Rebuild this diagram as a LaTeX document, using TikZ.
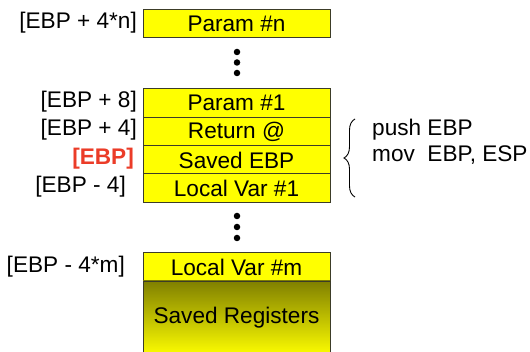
\documentclass[tikz,border=0pt]{standalone}
\usepackage{fontspec}
\setmainfont{Liberation Sans}
\usetikzlibrary{decorations.pathreplacing}
\definecolor{boxyellow}{RGB}{255,255,0}
\definecolor{olivetop}{RGB}{128,128,0}
\definecolor{ebpred}{RGB}{235,60,40}
\definecolor{boxline}{RGB}{60,60,40}
\begin{document}
\begin{tikzpicture}[x=1pt,y=-1pt,
  every node/.style={font=\fontsize{22.6}{26}\selectfont, inner sep=0pt},
  slot/.style={draw=boxline, line width=0.8pt, fill=boxyellow, minimum width=187pt, minimum height=28.3pt},
  addr/.style={anchor=east},
  dot/.style={circle, fill=black, minimum size=6.5pt, inner sep=0pt}]
\useasboundingbox (0,0) rectangle (530,352);
\clip (0,0) rectangle (530,352);
% stack slots
\node[slot] (pn) at (236.5,23.5) {Param \#n};
\node[slot] (p1) at (236.5,103) {Param \#1};
\node[slot] (ret) at (236.5,131.5) {Return @};
\node[slot] (sebp) at (236.5,160) {Saved EBP};
\node[slot] (lv1) at (236.5,188) {Local Var \#1};
\node[slot] (lvm) at (236.5,267) {Local Var \#m};
\shade[top color=olivetop, bottom color=boxyellow, draw=boxline, line width=0.8pt] (143,281) rectangle (330,356);
\node (sr) at (236.5,318) {Saved Registers};
% dots
\node[dot] (d1) at (237,52) {};
\node[dot] (d2) at (237,62.5) {};
\node[dot] (d3) at (237,73) {};
\node[dot] (d4) at (237,216) {};
\node[dot] (d5) at (237,227) {};
\node[dot] (d6) at (237,238) {};
% address labels
\node[addr] (a1) at (137,23) {[EBP + 4*n]};
\node[addr] (a2) at (137,102) {[EBP + 8]};
\node[addr] (a3) at (137,130) {[EBP + 4]};
\node[addr, text=ebpred, font=\fontsize{22.6}{26}\selectfont\bfseries] (a4) at (134,159) {[EBP]};
\node[addr] (a5) at (126,187) {[EBP - 4]};
\node[addr] (a6) at (125,267) {[EBP - 4*m]};
% brace and prologue
\coordinate (bt) at (355,119);
\coordinate (bb) at (355,197);
\draw[line width=0.9pt, decorate, decoration={brace, amplitude=11pt}] (bb) -- (bt);
\node[anchor=west] (push) at (372,130) {push EBP};
\node[anchor=west] (mov) at (372,155) {mov\ \ EBP, ESP};
\end{tikzpicture}
\end{document}
